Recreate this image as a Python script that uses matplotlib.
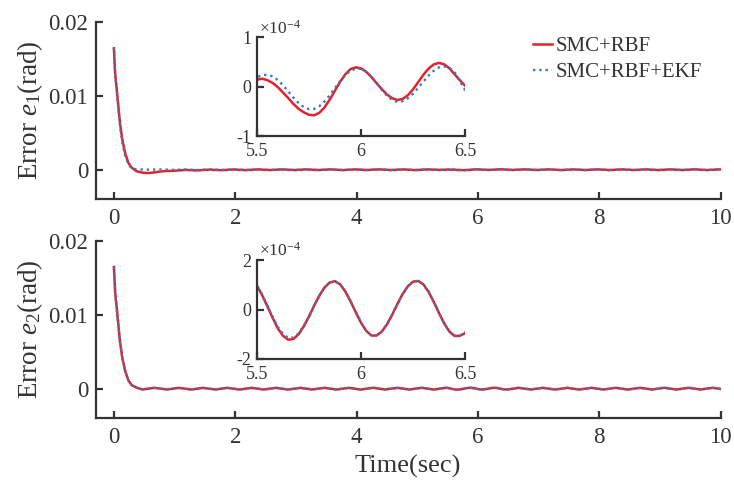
import numpy as np
import matplotlib
matplotlib.use('Agg')
import matplotlib.pyplot as plt

plt.rcParams['font.family'] = ['Liberation Serif', 'DejaVu Serif']
plt.rcParams['mathtext.fontset'] = 'custom'
plt.rcParams['mathtext.rm'] = 'Liberation Serif'
plt.rcParams['mathtext.it'] = 'Liberation Serif:italic'
plt.rcParams['axes.unicode_minus'] = False

#sample times (sec)
t_fall = [0, 0.02, 0.047, 0.074, 0.10, 0.14, 0.185, 0.24, 0.29, 0.37]
t1_settle = [0.47, 0.57, 0.67, 0.77, 0.87, 0.97]
t_zoom = np.linspace(5.5, 6.5, 41)
t1 = np.concatenate([t_fall, t1_settle, np.arange(1.17, 5.4, 0.2), t_zoom,
                     np.arange(6.57, 10.0, 0.2), [10.0]])
t2 = np.concatenate([t_fall, np.arange(0.47, 5.5, 0.2), t_zoom,
                     np.arange(6.67, 10.0, 0.2), [10.0]])

#errors, in units of 1e-4 rad
e1_rbf = [164, 130, 108, 85, 63, 40, 22.5, 9, 3, -2.0,
          -4.0, -4.5, -3.6, -2.4, -1.7, -1.6,
          -0.3, -1.0, 0.1, -0.7, 0.3, -0.6, 0.4, -0.5, 0.4, -0.5, 0.4,
          -0.5, 0.45, -0.5, 0.4, -0.45, 0.45, -0.5, 0.4, -0.55, 0.4, -0.3,
          0.14, 0.16, 0.13, 0.075, -0.01, -0.12, -0.23, -0.35, -0.45, -0.52,
          -0.57, -0.58, -0.53, -0.42, -0.26, -0.08, 0.10, 0.25, 0.355, 0.39,
          0.37, 0.30, 0.195, 0.07, -0.05, -0.16, -0.236, -0.27, -0.25, -0.176,
          -0.056, 0.09, 0.24, 0.365, 0.45, 0.48, 0.45, 0.37, 0.25, 0.13, 0.02,
          -0.35, 0.45, -0.4, 0.45, -0.5, 0.4, -0.45, 0.45, -0.5, 0.4,
          -0.45, 0.45, -0.5, 0.4, -0.45, 0.45, -0.5, 0.4,
          0.35]
e1_ekf = [164, 129, 106, 82, 59, 36, 19, 7, 2, 0.5,
          0.3, 0.1, 0.2, 0.3, 0.1, -0.2,
          0.3, -0.3, 0.3, -0.35, 0.35, -0.4, 0.35, -0.4, 0.35, -0.4, 0.4,
          -0.4, 0.35, -0.45, 0.4, -0.4, 0.35, -0.45, 0.4, -0.4, 0.35, -0.3,
          0.19, 0.23, 0.24, 0.207, 0.133, 0.027, -0.097, -0.223, -0.334, -0.415,
          -0.456, -0.45, -0.397, -0.30, -0.173, -0.03, 0.11, 0.233, 0.321, 0.366,
          0.36, 0.302, 0.20, 0.071, -0.064, -0.184, -0.27, -0.309, -0.295, -0.238,
          -0.144, -0.027, 0.101, 0.222, 0.322, 0.387, 0.41, 0.38, 0.29, 0.12, -0.07,
          -0.35, 0.4, -0.4, 0.4, -0.45, 0.35, -0.4, 0.4, -0.45, 0.35,
          -0.4, 0.4, -0.45, 0.35, -0.4, 0.4, -0.45, 0.35,
          0.3]
e2_rbf = [164.4, 130.7, 108.2, 85.7, 63.3, 40.8, 24, 11, 5, 1.5,
          -1.0, 1.1, -1.1, 1.1, -1.15, 1.1, -1.1, 1.15, -1.15, 1.1, -1.1, 1.15, -1.2,
          1.1, -1.1, 1.15, -1.15, 1.1, -1.2, 1.15, -1.1, 1.1, -1.15, 1.15, -1.2, 1.15,
          0.97, 0.58, 0.13, -0.33, -0.76, -1.06, -1.22, -1.19, -1.00, -0.68,
          -0.28, 0.16, 0.57, 0.90, 1.10, 1.15, 1.02, 0.73, 0.33, -0.11,
          -0.53, -0.86, -1.05, -1.05, -0.89, -0.60, -0.21, 0.22, 0.63, 0.94,
          1.13, 1.16, 1.02, 0.72, 0.31, -0.14, -0.56, -0.89, -1.07, -1.06, -0.96,
          1.15, -1.1, 1.15, -1.15, 1.1, -1.15, 1.15, -1.1, 1.15,
          -1.15, 1.1, -1.1, 1.15, -1.15, 1.1, -1.1, 1.15,
          -0.5]
e2_ekf = [164.4, 130.5, 108.0, 85.5, 63.0, 40.6, 23.8, 10.8, 4.9, 1.4,
          -0.95, 1.1, -1.1, 1.1, -1.1, 1.1, -1.1, 1.1, -1.15, 1.1, -1.1, 1.15, -1.15,
          1.1, -1.1, 1.15, -1.15, 1.1, -1.15, 1.15, -1.1, 1.1, -1.15, 1.15, -1.15, 1.15,
          0.95, 0.60, 0.17, -0.28, -0.70, -0.99, -1.14, -1.13, -0.96, -0.66,
          -0.27, 0.16, 0.56, 0.89, 1.09, 1.14, 1.02, 0.73, 0.34, -0.10,
          -0.52, -0.85, -1.04, -1.04, -0.88, -0.59, -0.20, 0.23, 0.63, 0.94,
          1.12, 1.15, 1.01, 0.71, 0.31, -0.13, -0.55, -0.88, -1.06, -1.05, -0.94,
          1.15, -1.1, 1.15, -1.15, 1.1, -1.15, 1.15, -1.1, 1.15,
          -1.15, 1.1, -1.1, 1.15, -1.15, 1.1, -1.1, 1.15,
          -0.5]

labels = ['SMC+RBF', 'SMC+RBF+EKF']
inset_yticks = [[-1, 0, 1], [-2, 0, 2]]
red = '#e8202a'
blue = '#2f7dbf'
axcol = '#333333'


def style(ax, fs, px, py):
    for s in ['top', 'right']:
        ax.spines[s].set_visible(False)
    for s in ['left', 'bottom']:
        ax.spines[s].set_linewidth(1.6)
        ax.spines[s].set_color(axcol)
    ax.tick_params(direction='in', length=5, width=1.6, color=axcol,
                   labelcolor=axcol, labelsize=fs)
    ax.tick_params(axis='x', pad=px)
    ax.tick_params(axis='y', pad=py)


fig = plt.figure(figsize=(7.34, 4.82), dpi=100)

panels = [(t1, e1_rbf, e1_ekf, 1, 0.5865, 0.7178),
          (t2, e2_rbf, e2_ekf, 2, 0.1322, 0.2552)]

for t, a, b, k, y0, yin in panels:
    a = np.array(a) * 1e-4
    b = np.array(b) * 1e-4

    ax = fig.add_axes([0.1304, y0, 0.8515, 0.3685])
    ax.plot(t, a, color=red, lw=1.8, label=labels[0])
    ax.plot(t, b, color=blue, lw=1.7, ls=':', label=labels[1])
    ax.set_xlim(-0.3, 10)
    ax.set_ylim(-0.004, 0.02)
    ax.set_xticks([0, 2, 4, 6, 8, 10])
    ax.set_yticks([0, 0.01, 0.02])
    ax.set_yticklabels(['0', '0.01', '0.02'])
    style(ax, 16.5, 6, 5.5)
    ax.set_ylabel('Error $e_%d$(rad)' % k, fontsize=19.5, color=axcol, labelpad=2)
    if k == 1:
        ax.legend(loc='upper right', bbox_to_anchor=(1.0, 1.02), frameon=False,
                  fontsize=15, handlelength=0.95, handletextpad=0.15,
                  labelspacing=0.3, labelcolor=axcol)
    else:
        ax.set_xlabel('Time(sec)', fontsize=19, color=axcol, labelpad=5)

    ins = fig.add_axes([0.3501, yin, 0.2834, 0.205])
    ins.plot(t, a, color=red, lw=1.8)
    ins.plot(t, b, color=blue, lw=1.7, ls=':')
    ins.set_xlim(5.5, 6.5)
    yt = inset_yticks[k - 1]
    ins.set_ylim(yt[0] * 1e-4, yt[-1] * 1e-4)
    ins.set_xticks([5.5, 6, 6.5])
    ins.set_xticklabels(['5.5', '6', '6.5'])
    ins.set_yticks([v * 1e-4 for v in yt])
    ins.set_yticklabels([str(v) for v in yt])
    style(ins, 13, 5, 4)
    ins.text(0.01, 1.0, r'$\times10^{-4}$', transform=ins.transAxes,
             ha='left', va='bottom', fontsize=12.5, color=axcol)

fig.savefig('out.png', dpi=100)
